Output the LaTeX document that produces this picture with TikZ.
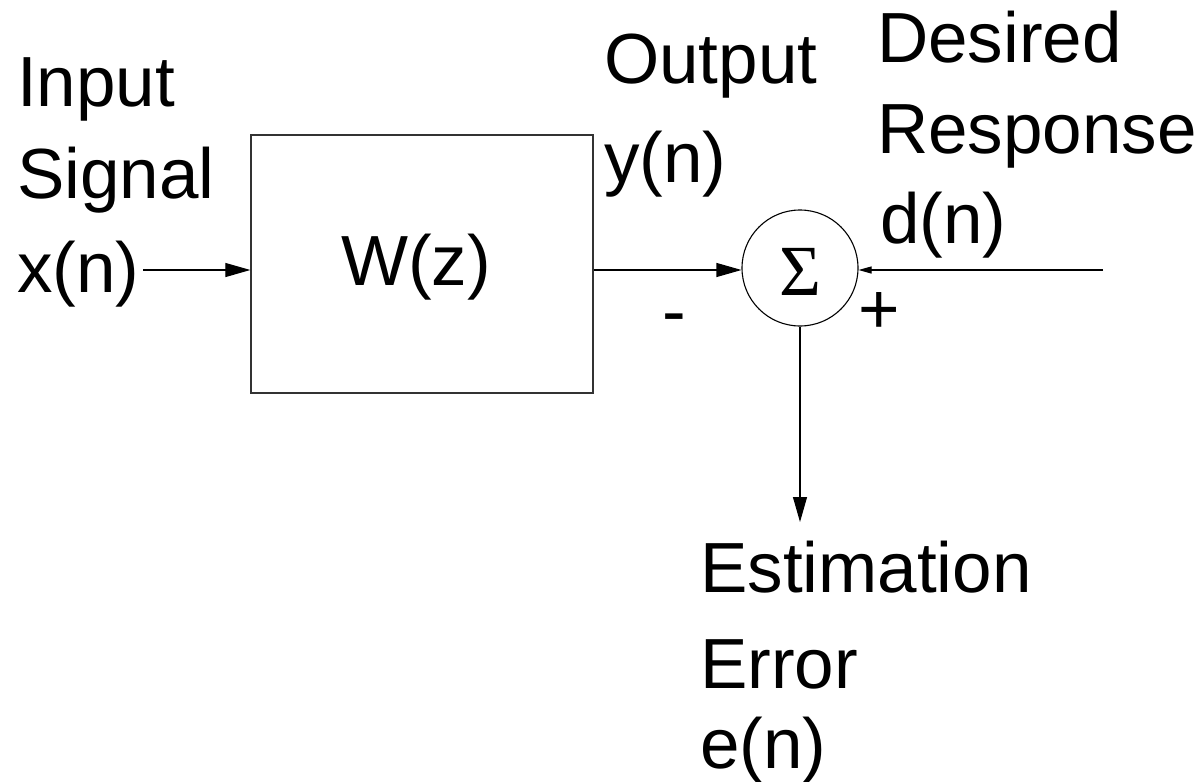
\documentclass[tikz,border=0pt]{standalone}
\usepackage{fontspec}
\setmainfont{Liberation Sans}
\newfontfamily\sigfont{Liberation Serif}
\usetikzlibrary{arrows.meta}
\tikzset{
  lbl/.style={anchor=base west, inner sep=0pt, font=\fontsize{71}{84}\selectfont},
  wire/.style={draw=black, line width=1.1pt},
  bigarrow/.style={wire, -{Triangle[length=25pt,width=14pt]}},
  smallarrow/.style={wire, -{Triangle[length=13pt,width=7pt]}},
  blockbox/.style={draw=black!80, line width=1.3pt, minimum width=342pt, minimum height=258pt, inner sep=0pt},
  sumnode/.style={circle, draw=black, line width=1.1pt, minimum size=116pt, inner sep=0pt}
}
\begin{document}
\begin{tikzpicture}[x=1pt, y=-1pt]
\useasboundingbox (0,0) rectangle (1200,782);
% blocks
\node[blockbox] (box) at (422,264) {};
\node[sumnode] (sum) at (800,268) {};
\node[inner sep=0pt, font=\sigfont\fontsize{72}{80}\selectfont] (sig) at (800,272) {Σ};
% labels
\node[lbl] (in1) at (17,106) {Input};
\node[lbl] (in2) at (17,198) {Signal};
\node[lbl] (in3) at (17,292) {x(n)};
\node[lbl] (out1) at (604,83) {Output};
\node[lbl] (out2) at (604,182) {y(n)};
\node[lbl] (des1) at (877,62) {Desired};
\node[lbl] (des2) at (877,153) {Response};
\node[lbl] (des3) at (880,243) {d(n)};
\node[lbl] (err1) at (700,592) {Estimation};
\node[lbl] (err2) at (700,688) {Error};
\node[lbl] (err3) at (700,768) {e(n)};
\node[lbl] (wz) at (341,285) {W(z)};
\node[lbl] (minus) at (662,335) {-};
\node[lbl] (plus) at (858,333) {+};
% connector end points
\coordinate (xin) at (143,270);
\coordinate (dstart) at (1103,270);
\coordinate (eend) at (800,522);
% connectors
\draw[bigarrow] (xin) -- (box.west |- xin);
\draw[bigarrow] (box.east |- xin) -- (sum.west |- xin);
\draw[smallarrow] (dstart) -- (sum.east |- dstart);
\draw[bigarrow] (sum.south) -- (eend);
\end{tikzpicture}
\end{document}
